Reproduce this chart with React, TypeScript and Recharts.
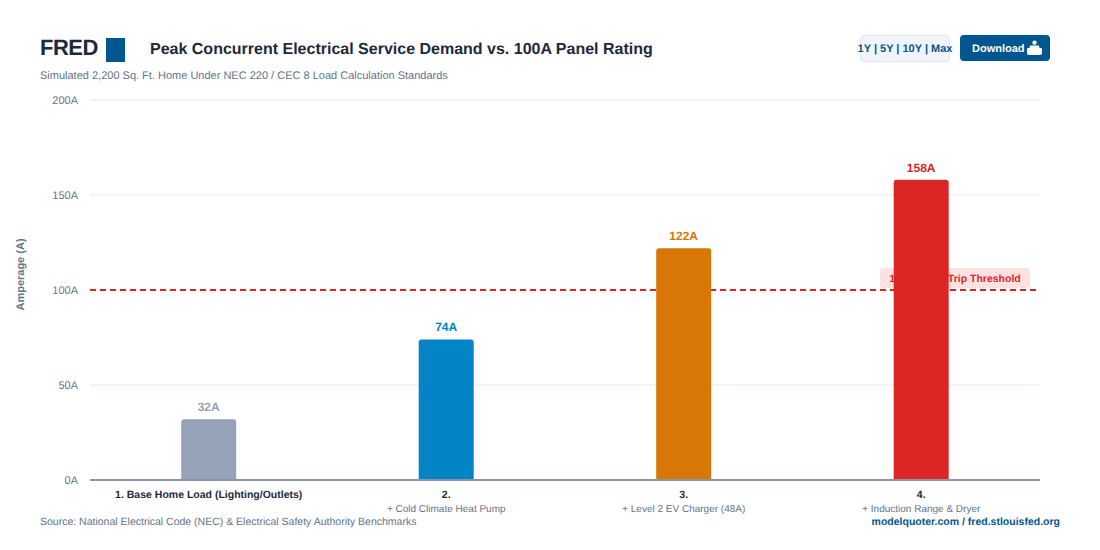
import React from "react";
import { BarChart, Bar, XAxis, YAxis, CartesianGrid, Cell, LabelList, ReferenceLine } from "recharts";

const titles = ["1. Base Home Load (Lighting/Outlets)", "2.", "3.", "4."];
const subtitles = ["", "+ Cold Climate Heat Pump", "+ Level 2 EV Charger (48A)", "+ Induction Range & Dryer"];
const amps = [32, 74, 122, 158];
const colors = ["#94a3b8", "#0284c7", "#d97706", "#dc2626"];
const yTicks = [0, 50, 100, 150, 200];
const threshold = 100;
const thresholdLabel = "100A Panel Trip Threshold";

const data = titles.map((t, i) => ({ name: t, sub: subtitles[i], amps: amps[i], color: colors[i] }));
const FONT = '"Liberation Sans", Arial, Helvetica, sans-serif';
const BLUE = "#00568f";

const XTick = (props: any) => {
  const { x, y, payload, index } = props;
  return (
    <g>
      <text x={x} y={y + 10} textAnchor="middle" fontFamily={FONT} fontSize={10.5} fontWeight={700} fill="#1e293b">{titles[index] ?? payload.value}</text>
      {subtitles[index] ? (
        <text x={x} y={y + 24} textAnchor="middle" fontFamily={FONT} fontSize={10} fill="#64748b">{subtitles[index]}</text>
      ) : null}
    </g>
  );
};

const ThresholdLabel = (props: any) => {
  const vb = props.viewBox;
  const right = vb.x + vb.width - 10;
  const w = 150, h = 20;
  return (
    <g>
      <rect x={right - w} y={vb.y - 22} width={w} height={h} rx={3} fill="#fee2e2" />
      <text x={right - w / 2} y={vb.y - 8} textAnchor="middle" fontFamily={FONT} fontSize={10.5} fontWeight={700} fill="#dc2626">{thresholdLabel}</text>
    </g>
  );
};

const YTitle = (props: any) => {
  const vb = props.viewBox;
  const cy = vb.y + vb.height / 2 - 15.5;
  return (
    <text x={24} y={cy} transform={`rotate(-90 24 ${cy})`} textAnchor="middle" fontFamily={FONT} fontSize={11} fontWeight={700} fill="#64748b">Amperage (A)</text>
  );
};

export default function App() {
  return (
    <div style={{ position: "absolute", left: 0, top: 0, width: 1100, height: 550, background: "#fff", fontFamily: FONT, overflow: "hidden", textRendering: "geometricPrecision" }}>
      <div style={{ position: "absolute", left: 40, top: 35, fontSize: 22, fontWeight: 700, color: "#1e293b", letterSpacing: -0.5, lineHeight: "26px" }}>FRED</div>
      <div style={{ position: "absolute", left: 106, top: 38, width: 19, height: 24, background: BLUE }} />
      <div style={{ position: "absolute", left: 150, top: 40, fontSize: 16, fontWeight: 700, color: "#1e293b", lineHeight: "20px", whiteSpace: "nowrap" }}>Peak Concurrent Electrical Service Demand vs. 100A Panel Rating</div>
      <div style={{ position: "absolute", left: 40, top: 69, fontSize: 11, color: "#64748b", lineHeight: "14px", whiteSpace: "nowrap" }}>Simulated 2,200 Sq. Ft. Home Under NEC 220 / CEC 8 Load Calculation Standards</div>
      <div style={{ position: "absolute", left: 860, top: 34.5, width: 90, height: 27, boxSizing: "border-box", background: "#f1f5f9", border: "1.5px solid #e2e8f0", borderRadius: 4, display: "flex", justifyContent: "center", alignItems: "center", fontSize: 11, fontWeight: 700, color: BLUE, whiteSpace: "nowrap", paddingTop: 1 }}>1Y | 5Y | 10Y | Max</div>
      <div style={{ position: "absolute", left: 960, top: 35, width: 90, height: 26, background: BLUE, borderRadius: 4 }}>
        <div style={{ position: "absolute", left: 12, top: 1, lineHeight: "26px", fontSize: 11, fontWeight: 700, color: "#fff", whiteSpace: "nowrap" }}>Download</div>
        <svg style={{ position: "absolute", left: 67, top: 5 }} width={15} height={15} viewBox="0 0 15 15">
          <circle cx={7.5} cy={2.6} r={2.2} fill="#fff" />
          <path d="M3 5.5 H12 L12.5 8 H14 Q15 8 15 9 V13 Q15 15 13 15 H2 Q0 15 0 13 V9 Q0 8 1 8 H2.5 Z" fill="#fff" />
        </svg>
      </div>
      <BarChart width={1100} height={550} data={data} margin={{ top: 100, right: 60, bottom: 40, left: 30 }} barCategoryGap="38.4%">
        <CartesianGrid vertical={false} stroke="#f1f5f9" strokeWidth={2} />
        <XAxis dataKey="name" tickLine={false} axisLine={{ stroke: "#8b95a7", strokeWidth: 2 }} tick={<XTick />} interval={0} />
        <YAxis width={60} domain={[0, 200]} ticks={yTicks} axisLine={false} tickLine={false} tickFormatter={(v: number) => `${v}A`} tick={{ fontFamily: FONT, fontSize: 11, fill: "#64748b" }} tickMargin={6} label={<YTitle />} />
        <ReferenceLine y={threshold} stroke="#dc2626" strokeWidth={2} strokeDasharray="6 4" label={<ThresholdLabel />} zIndex={100} />
        <Bar dataKey="amps" isAnimationActive={false} radius={[3, 3, 0, 0]}>
          {data.map((d) => <Cell key={d.name} fill={d.color} />)}
          <LabelList dataKey="amps" position="top" offset={6} content={(p: any) => (
            <text x={p.x + p.width / 2} y={p.y - 8} textAnchor="middle" fontFamily={FONT} fontSize={12} fontWeight={700} fill={colors[p.index]}>{`${p.value}A`}</text>
          )} />
        </Bar>
      </BarChart>
      <div style={{ position: "absolute", left: 40, top: 515, fontSize: 10.5, color: "#64748b", lineHeight: "14px", whiteSpace: "nowrap" }}>Source: National Electrical Code (NEC) &amp; Electrical Safety Authority Benchmarks</div>
      <div style={{ position: "absolute", right: 40, top: 515, fontSize: 10.5, fontWeight: 700, color: BLUE, lineHeight: "14px", whiteSpace: "nowrap" }}>modelquoter.com / fred.stlouisfed.org</div>
    </div>
  );
}
